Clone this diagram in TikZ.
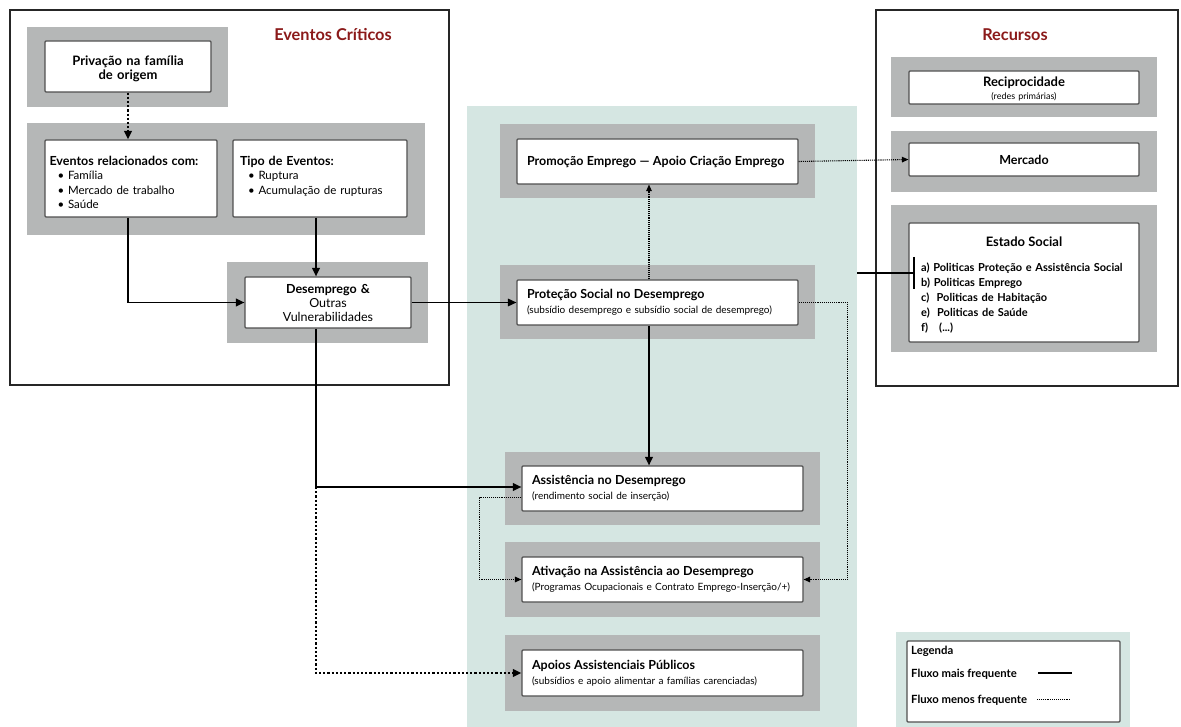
\documentclass[tikz,border=0pt]{standalone}
\usepackage{fontspec}
\setmainfont{Lato}
\usetikzlibrary{arrows.meta,calc}
\definecolor{bandgray}{HTML}{B5B7B7}
\definecolor{panelteal}{HTML}{D5E6E2}
\definecolor{edgegray}{HTML}{505050}
\definecolor{titlered}{HTML}{8B1A1A}
\newcommand{\fT}{\fontsize{12.5}{14}\selectfont\bfseries}
\newcommand{\fS}{\fontsize{10}{15}\selectfont}
\newcommand{\fL}{\fontsize{11.3}{13}\selectfont\bfseries}
\begin{document}
\begin{tikzpicture}[x=1pt,y=-1pt,
  band/.style={fill=bandgray,draw=none,inner sep=0pt},
  panel/.style={fill=panelteal,draw=none,inner sep=0pt},
  outer/.style={draw=black!85,line width=1.4pt,fill=white,inner sep=0pt},
  wbox/.style={draw=edgegray,fill=white,line width=1.1pt,rounded corners=1pt,inner sep=0pt},
  ttl/.style={text=titlered,font=\fontsize{16.3}{18}\selectfont\bfseries},
  cbox/.style={wbox,minimum width=281pt,minimum height=45pt,text width=261pt,align=left,font=\fS},
  flow/.style={line width=1.8pt,-{Triangle[length=8.5pt,width=7.5pt]}},
  weak/.style={line width=1.1pt,densely dotted,-{Triangle[length=6.5pt,width=5.5pt]}},
  weakb/.style={line width=2.2pt,dotted,-{Triangle[length=8.5pt,width=7.5pt]}}]
\useasboundingbox[fill=white] (0,0) rectangle (1181,727);

% ---------- Eventos Criticos ----------
\node[outer,minimum width=439pt,minimum height=375pt] (evc) at (229.5,197.5) {};
\node[ttl] (evct) at (333,35) {Eventos Críticos};
\node[band,minimum width=201pt,minimum height=80pt] (b1) at (127.5,67) {};
\node[wbox,minimum width=166pt,minimum height=51pt,text width=160pt,align=center,font=\fontsize{13}{14}\selectfont\bfseries] (priv) at (128,66.5) {\rule{0pt}{15pt}Privação na família\\de origem};
\node[band,minimum width=398pt,minimum height=112pt] (b2) at (226,179) {};
\node[wbox,minimum width=172pt,minimum height=77pt,text width=163pt,align=left,font=\fontsize{11.5}{14.5}\selectfont] (evrel) at (131,178.5)
  {\rule{0pt}{17pt}{\fT Eventos relacionados com:}\\
   \hspace*{8pt}• Família\\\hspace*{8pt}• Mercado de trabalho\\\hspace*{8pt}• Saúde};
\node[wbox,minimum width=174pt,minimum height=77pt,text width=160pt,align=left,font=\fontsize{11.5}{14.5}\selectfont] (tipo) at (320,178.5)
  {\rule{0pt}{17pt}{\fT Tipo de Eventos:}\\
   \hspace*{8pt}• Ruptura\\\hspace*{8pt}• Acumulação de rupturas\\\mbox{}};
\node[band,minimum width=201pt,minimum height=81pt] (b3) at (327.5,302.5) {};
\node[wbox,minimum width=166pt,minimum height=51pt,text width=160pt,align=center,font=\fontsize{12.5}{14}\selectfont] (desemp) at (328,302.5)
  {{\bfseries Desemprego \&}\\Outras\\Vulnerabilidades};

% ---------- central panel ----------
\node[panel,minimum width=390pt,minimum height=621pt] (cpanel) at (662,416.5) {};
\node[band,minimum width=315pt,minimum height=74pt] (bpromo) at (657.5,161) {};
\node[cbox] (promo) at (657.5,161.5)
  {{\fT Promoção Emprego — Apoio Criação Emprego}};
\node[band,minimum width=315pt,minimum height=74pt] (bprot) at (657.5,302) {};
\node[cbox] (prot) at (657.5,302.5)
  {{\fT Proteção Social no Desemprego}\\(subsídio desemprego e subsídio social de desemprego)};
\node[band,minimum width=315pt,minimum height=73pt] (bassist) at (662.5,488.5) {};
\node[cbox] (assist) at (662.5,488.5)
  {{\fT Assistência no Desemprego}\\(rendimento social de inserção)};
\node[band,minimum width=315pt,minimum height=75pt] (bativ) at (662.5,579.5) {};
\node[cbox] (ativ) at (662.5,579.5)
  {{\fT Ativação na Assistência ao Desemprego}\\(Programas Ocupacionais e Contrato Emprego-Inserção/+)};
\node[band,minimum width=315pt,minimum height=76pt] (bapoio) at (662.5,673) {};
\node[cbox,minimum height=46pt] (apoio) at (662.5,673)
  {{\fT Apoios Assistenciais Públicos}\\(subsídios e apoio alimentar a famílias carenciadas)};

% ---------- Recursos ----------
\node[outer,minimum width=302pt,minimum height=376pt] (rec) at (1027,198) {};
\node[ttl] (rect) at (1015,35) {Recursos};
\node[band,minimum width=266pt,minimum height=60pt] (brecip) at (1024,87) {};
\node[wbox,minimum width=230pt,minimum height=33pt,text width=220pt,align=center,font=\fontsize{9}{13}\selectfont] (recip) at (1024,87.5)
  {\rule{0pt}{12pt}{\fontsize{13}{14}\selectfont\bfseries Reciprocidade}\\(redes primárias)};
\node[band,minimum width=266pt,minimum height=61pt] (bmerc) at (1024,161.5) {};
\node[wbox,minimum width=230pt,minimum height=33pt,font=\fT] (merc) at (1024,159.5) {Mercado};
\node[band,minimum width=266pt,minimum height=147pt] (best) at (1024,278.5) {};
\node[wbox,minimum width=230pt,minimum height=119pt] (est) at (1024,282.5) {};
\node[font=\fontsize{13}{15}\selectfont\bfseries] (estt) at (1024,242) {Estado Social};
\node[anchor=north west,text width=215pt,align=left,inner sep=0pt,font=\fontsize{11}{15}\selectfont\bfseries] (estl) at (921,262.5)
  {a) Politicas Proteção e Assistência Social\\b) Politicas Emprego\\c)\ \ Politicas de Habitação\\e)\ \ Politicas de Saúde\\f)\ \ \ (...)};
\coordinate (bt) at (914,257);
\coordinate (bb) at (914,289);
\coordinate (bm) at (914,273);

% ---------- Legenda ----------
\node[panel,minimum width=234pt,minimum height=95pt] (lpanel) at (1013,679.5) {};
\node[wbox,minimum width=213pt,minimum height=81pt] (lbox) at (1013.5,681.5) {};
\node[anchor=west,inner sep=0pt,font=\fL] (lg) at (911,651) {Legenda};
\node[anchor=west,inner sep=0pt,font=\fL] (lg1) at (911,674) {Fluxo mais frequente};
\node[anchor=west,inner sep=0pt,font=\fL] (lg2) at (911,700) {Fluxo menos frequente};
\coordinate (l1a) at (1038,673);
\coordinate (l1b) at (1072,673);
\coordinate (l2a) at (1037,699);
\coordinate (l2b) at (1071,699);
\draw[line width=1.5pt] (l1a) -- (l1b);
\draw[line width=0.9pt,densely dotted] (l2a) -- (l2b);

% ---------- connectors ----------
\coordinate (c316) at (316,0);
\coordinate (c649) at (649,0);
\coordinate (jn) at (316,487);
\draw[weakb] (priv.south) -- (evrel.north -| priv.south);
\draw[flow] ([xshift=-3pt]evrel.south) |- (desemp.west);
\draw[flow] (tipo.south -| c316) -- (desemp.north -| c316);
\draw[line width=1.5pt,-{Triangle[length=8.5pt,width=7.5pt]}] (desemp.east) -- (prot.west);
\draw[line width=1.8pt] (desemp.south -| c316) -- (jn);
\draw[flow] (jn) -- ([yshift=1.5pt]assist.west);
\draw[weakb] (jn) |- (apoio.west);
\draw[weak] (prot.north -| c649) -- (promo.south -| c649);
\draw[flow] (prot.south -| c649) -- (assist.north -| c649);
\draw[weak] (promo.east) -- (merc.west);
\draw[weak] (prot.east) -- ++(49,0) |- (ativ.east);
\draw[weak] ([yshift=-9pt]assist.west) -- ++(-42,0) |- (ativ.west);
\draw[line width=1.5pt] (cpanel.east |- bm) -- (bm);
\draw[line width=1.5pt] (bt) -- (bb);
\end{tikzpicture}
\end{document}
